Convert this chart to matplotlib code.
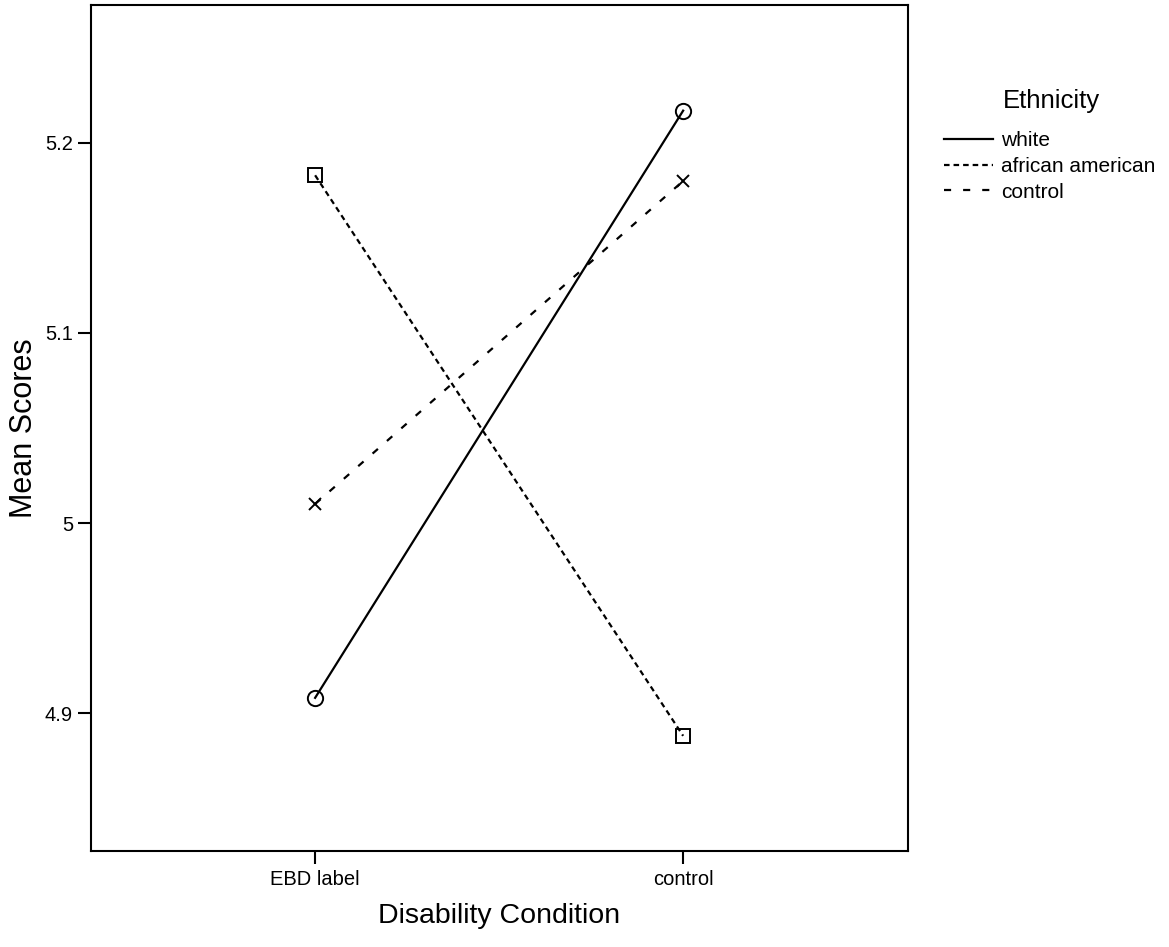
import matplotlib.pyplot as plt
import numpy as np

plt.rcParams['font.family'] = ['Liberation Sans', 'DejaVu Sans']

conditions = ["EBD label", "control"]
groups = ["white", "african american", "control"]
white = [4.908, 5.217]
african_american = [5.183, 4.888]
control = [5.010, 5.180]

series = [white, african_american, control]
styles = [
    dict(linestyle="-", marker="o", ms=11),
    dict(linestyle=(0, (2.5, 1.8)), marker="s", ms=10),
    dict(linestyle=(0, (3.2, 5.4)), marker="x", ms=8),
]

W, H = 1169, 947
fig = plt.figure(figsize=(W / 100, H / 100), dpi=100)
ax = fig.add_axes([91 / W, 1 - 851 / H, (908 - 91) / W, (851 - 5) / H])

x = np.arange(len(conditions))
handles = []
for name, vals, st in zip(groups, series, styles):
    ax.plot(x, vals, color="black", linewidth=1.6, linestyle=st["linestyle"],
            marker=st["marker"], markersize=st["ms"],
            markerfacecolor="none", markeredgecolor="black", markeredgewidth=1.4)
    h, = ax.plot([], [], color="black", linewidth=1.6, linestyle=st["linestyle"])
    handles.append(h)

ax.set_xlim(-0.609, 1.611)
ax.set_ylim(4.8274, 5.2726)
ax.set_xticks(x)
ax.set_xticklabels(conditions, fontsize=14.5)
ax.set_yticks([4.9, 5.0, 5.1, 5.2])
ax.set_yticklabels(["4.9", "5", "5.1", "5.2"], fontsize=14.5)
ax.tick_params(direction="out", length=9.5, width=1.5, pad=4.5)
ax.tick_params(axis="y", pad=3.5)
for s in ax.spines.values():
    s.set_linewidth(1.5)
ax.set_xlabel("Disability Condition", fontsize=20.5, labelpad=10)
ax.set_ylabel("Mean Scores", fontsize=22, labelpad=4)

# legend: title drawn separately so the gap above the entries matches
fig.text(1051 / W, 1 - 101 / H, "Ethnicity", fontsize=18.5, ha="center", va="center")
leg = fig.legend(handles, groups, loc="upper left", bbox_to_anchor=(944 / W, 1 - 131 / H),
                 frameon=False, fontsize=15, handlelength=2.35, handletextpad=0.4,
                 labelspacing=0.33, borderpad=0, borderaxespad=0)

plt.savefig("out.png", dpi=100)
